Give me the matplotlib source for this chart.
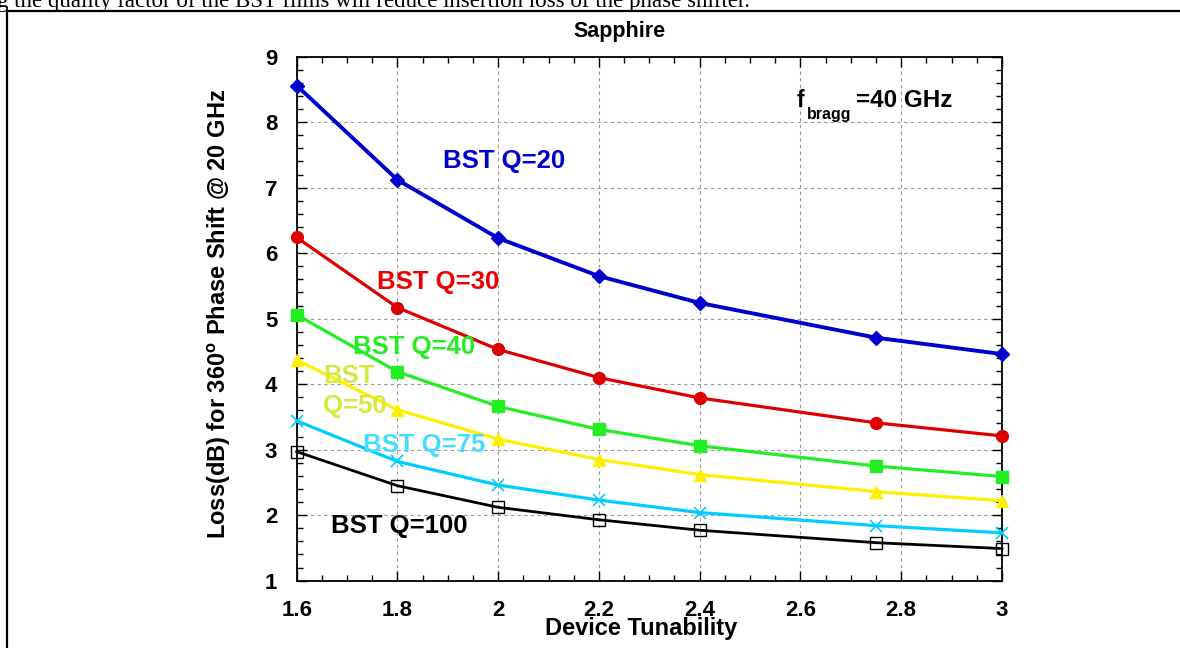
import matplotlib
matplotlib.use("Agg")
import matplotlib.pyplot as plt
from matplotlib.lines import Line2D
from matplotlib.ticker import MultipleLocator

# Data
tunability = [1.6, 1.8, 2.0, 2.2, 2.4, 2.75, 3.0]
loss_q20 = [8.56, 7.12, 6.23, 5.65, 5.24, 4.71, 4.46]
loss_q30 = [6.24, 5.17, 4.53, 4.10, 3.79, 3.41, 3.21]
loss_q40 = [5.06, 4.19, 3.66, 3.31, 3.06, 2.75, 2.59]
loss_q50 = [4.37, 3.61, 3.16, 2.85, 2.62, 2.36, 2.22]
loss_q75 = [3.44, 2.82, 2.46, 2.23, 2.04, 1.84, 1.73]
loss_q100 = [2.97, 2.45, 2.12, 1.93, 1.77, 1.58, 1.49]

x_ticks = [1.6, 1.8, 2.0, 2.2, 2.4, 2.6, 2.8, 3.0]
x_tick_labels = ["1.6", "1.8", "2", "2.2", "2.4", "2.6", "2.8", "3"]

plt.rcParams["font.family"] = ["Liberation Sans", "DejaVu Sans"]
plt.rcParams["font.weight"] = "bold"
plt.rcParams["mathtext.fontset"] = "custom"
plt.rcParams["mathtext.rm"] = "Liberation Sans:bold"
plt.rcParams["mathtext.bf"] = "Liberation Sans:bold"

fig = plt.figure(figsize=(11.8, 6.48), dpi=100)
ax = fig.add_axes([0.2514, 0.1039, 0.5977, 0.8086])

# series: values, colour, marker, marker size, line width
series = [
    (loss_q20, "#0000cc", "D", 7, 2.8),
    (loss_q30, "#dd0000", "o", 8.5, 2.3),
    (loss_q40, "#22ee22", "s", 8.5, 2.3),
    (loss_q50, "#ffee00", "^", 9, 2.3),
    (loss_q75, "#00ccff", "x", 9, 2.3),
    (loss_q100, "black", "s", 8, 2.0),
]
for vals, col, mk, ms, lw in series:
    if vals is loss_q100:
        ax.plot(tunability, vals, color=col, lw=lw, marker=mk, ms=ms,
                mfc="none", mec="black", mew=1, clip_on=False, zorder=3)
    elif mk == "x":
        ax.plot(tunability, vals, color=col, lw=lw, marker=mk, ms=ms,
                mew=1.2, clip_on=False, zorder=3)
    else:
        ax.plot(tunability, vals, color=col, lw=lw, marker=mk, ms=ms,
                mec=col, clip_on=False, zorder=3)

ax.set_xlim(1.6, 3.0)
ax.set_ylim(1, 9)
ax.set_xticks(x_ticks)
ax.set_xticklabels(x_tick_labels)
ax.xaxis.set_minor_locator(MultipleLocator(0.05))
ax.yaxis.set_major_locator(MultipleLocator(1))
ax.yaxis.set_minor_locator(MultipleLocator(0.2))
ax.tick_params(which="both", direction="in", top=True, right=True, width=1)
ax.tick_params(which="major", length=7, labelsize=16, pad=14)
ax.tick_params(which="minor", length=4.5)
for s in ax.spines.values():
    s.set_linewidth(1.3)

ax.grid(True, which="major", color="#999999", ls=(0, (3, 3)), lw=0.8)

ax.set_xlabel("Device Tunability", fontsize=17, fontweight="bold", va="center")
ax.xaxis.set_label_coords(0.488, -0.092)
ax.set_ylabel(r"Loss(dB) for 360$^{\mathrm{o}}$ Phase Shift @ 20 GHz",
              fontsize=17, fontweight="bold", va="center")
ax.yaxis.set_label_coords(-0.110, 0.51)

# curve labels
lab = dict(fontsize=18.5, fontweight="bold", ha="left", va="center")
ax.text(1.890, 7.415, "BST Q=20", color="#0000cc", **lab)
ax.text(1.759, 5.553, "BST Q=30", color="#ee0000", **lab)
ax.text(1.711, 4.568, "BST Q=40", color="#22ee22", **lab)
ax.text(1.653, 4.125, "BST", color="#d4ea40", **lab)
ax.text(1.653, 3.667, "Q=50", color="#d4ea40", **lab)
ax.text(1.731, 3.079, "BST Q=75", color="#44ddff", **lab)
ax.text(1.669, 1.835, "BST Q=100", color="black", **lab)

ax.text(2.593, 8.232, "f", fontsize=16.5, fontweight="bold", va="baseline")
ax.text(2.613, 8.049, "bragg", fontsize=11.5, fontweight="bold", va="baseline")
ax.text(2.710, 8.232, "=40 GHz", fontsize=17.5, fontweight="bold", va="baseline")

fig.text(619 / 1180, 1 - 32 / 648, "Sapphire", fontsize=15.5,
         fontweight="bold", ha="center", va="center")

# page text and frame around the figure
fig.text(-3 / 1180, 1 - 6.5 / 648,
         "g the quality factor of the BST films will reduce insertion loss of the phase shifter.",
         family=["Liberation Serif", "DejaVu Serif"], fontweight="normal",
         fontsize=16.5, ha="left", va="baseline")
fig.add_artist(Line2D([7 / 1180, 7 / 1180], [-0.05, 1 - 10.5 / 648],
                      color="black", lw=1.6, transform=fig.transFigure))
fig.add_artist(Line2D([7 / 1180, 1.05], [1 - 10.5 / 648, 1 - 10.5 / 648],
                      color="black", lw=1.6, transform=fig.transFigure))

fig.savefig("out.png", dpi=100)
